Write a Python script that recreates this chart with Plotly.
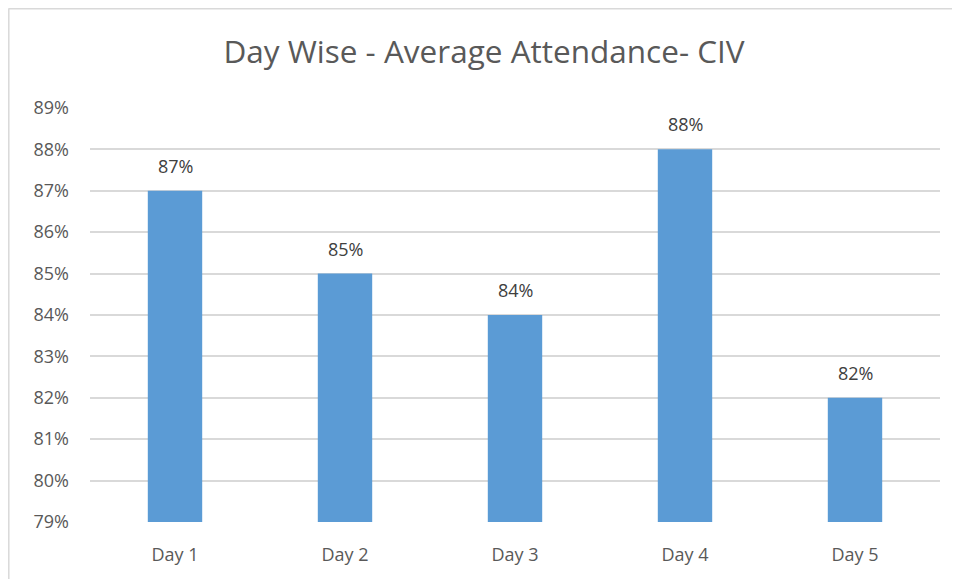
import plotly.graph_objects as go

days = ["Day 1", "Day 2", "Day 3", "Day 4", "Day 5"]
attendance = [87, 85, 84, 88, 82]
title_text = "Day Wise - Average Attendance- CIV"

# page body has an 8px margin: figure coords = screen coords - 8
W, H = 952, 571
L, R, T, B = 82, 20, 99, 57
pw, ph = W - L - R, H - T - B

fig = go.Figure(go.Bar(
    x=days, y=attendance,
    marker=dict(color="#5B9BD5", line=dict(width=0)),
    width=0.32,
    hoverinfo="x+y",
))

annotations = [
    dict(x=d, y=v, text=f"{v}%", showarrow=False, xref="x", yref="y",
         yanchor="middle", yshift=25,
         font=dict(size=18, color="#404040", family="Open Sans"))
    for d, v in zip(days, attendance)
]

def px_x(p):
    return (p - L) / pw

def px_y(p):
    return 1 - (p - T) / ph

fig.update_layout(
    width=W, height=H,
    margin=dict(l=L, r=R, t=T, b=B),
    paper_bgcolor="white", plot_bgcolor="white",
    title=dict(text=title_text, x=0.5, xanchor="center", y=1 - 44 / H, yanchor="middle",
               font=dict(size=31.5, color="#595959", family="Open Sans")),
    xaxis=dict(showgrid=False, showline=False, ticks="", ticklabelstandoff=20,
               tickfont=dict(size=18, color="#595959", family="Open Sans")),
    yaxis=dict(range=[79, 89.02], dtick=1, tick0=79, ticksuffix="%",
               showgrid=True, gridcolor="#D9D9D9", gridwidth=1.5,
               zeroline=False, showline=False, ticks="", ticklabelstandoff=20,
               tickfont=dict(size=18, color="#595959", family="Open Sans")),
    showlegend=False,
    annotations=annotations,
    shapes=[
        dict(type="line", xref="paper", yref="paper",
             x0=px_x(0.5), x1=px_x(W + 5), y0=px_y(0.8), y1=px_y(0.8),
             line=dict(color="#D9D9D9", width=1.5)),
        dict(type="line", xref="paper", yref="paper",
             x0=px_x(0.8), x1=px_x(0.8), y0=px_y(0.5), y1=px_y(H + 5),
             line=dict(color="#D9D9D9", width=1.5)),
    ],
)

fig.write_html("out.html")
